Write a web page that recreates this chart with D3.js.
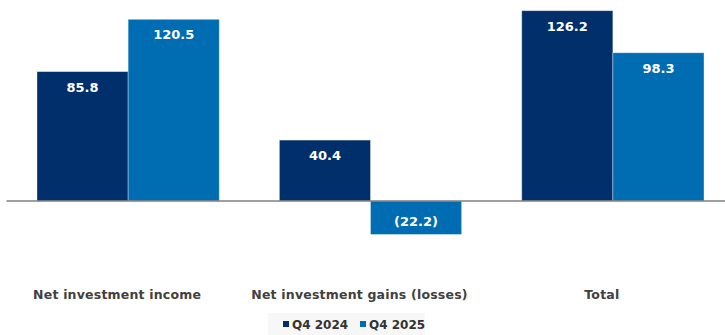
<!DOCTYPE html>
<html>
<head>
<meta charset="utf-8">
<script src="https://cdnjs.cloudflare.com/ajax/libs/d3/7.8.5/d3.min.js"></script>
<style>
  html, body { margin:0; padding:0; background:#fff; }
  .plot-wrap { width:725px; height:335px; }
  text { font-family: "DejaVu Sans", sans-serif; font-weight: bold; }
</style>
</head>
<body>
<div class="plot-wrap"></div>
<script>
var categories = ['Net investment income', 'Net investment gains (losses)', 'Total'];
var seriesNames = ['Q4 2024', 'Q4 2025'];
var q4_2024 = [85.8, 40.4, 126.2];
var q4_2025 = [120.5, -22.2, 98.3];
var seriesColors = ['#002f6b', '#006db2'];

var GroupedBars = function(opts){
    this.element = opts.elem;
    this.width = 725;
    this.height = 335;
}

GroupedBars.prototype.setData = function(newData){
  this.data = newData;
  this.draw();
}

GroupedBars.prototype.draw = function(){
    this.element.innerHTML = '';
    this.svg = d3.select(this.element).append('svg')
      .attr('width', this.width)
      .attr('height', this.height);

    this.createScales();
    this.addBars();
    this.addBaseline();
    this.addValueLabels();
    this.addCategoryLabels();
    this.addLegend();
}

GroupedBars.prototype.createScales = function(){
    this.xGroup = d3.scaleBand()
      .domain(categories)
      .range([37, 704])
      .paddingInner(0.248)
      .paddingOuter(0);
    this.xSeries = d3.scaleBand()
      .domain(seriesNames)
      .range([0, this.xGroup.bandwidth()])
      .padding(0);
    // 0 sits at y=201, ~1.508px per unit
    this.y = d3.scaleLinear()
      .domain([-30, 130])
      .range([246.24, 4.96]);
    this.color = d3.scaleOrdinal().domain(seriesNames).range(seriesColors);
}

GroupedBars.prototype.addBars = function(){
    var self = this;
    this.groups = this.svg.selectAll('.g-group')
      .data(this.data)
      .enter()
      .append('g')
      .attr('class', 'g-group')
      .attr('transform', function(d){ return 'translate(' + self.xGroup(d.category) + ',0)'; });

    this.groups.selectAll('rect.bar')
      .data(function(d){ return d.values; })
      .enter()
      .append('rect')
      .attr('class', 'bar')
      .attr('x', function(d){ return self.xSeries(d.series); })
      .attr('width', this.xSeries.bandwidth())
      .attr('y', function(d){ return self.y(Math.max(0, d.value)); })
      .attr('height', function(d){ return Math.abs(self.y(d.value) - self.y(0)); })
      .attr('fill', function(d){ return self.color(d.series); })
      .attr('stroke', 'rgba(255,255,255,0.45)')
      .attr('stroke-width', 0.8);
}

GroupedBars.prototype.addBaseline = function(){
    this.svg.append('line')
      .attr('x1', 6.5)
      .attr('x2', this.width)
      .attr('y1', this.y(0))
      .attr('y2', this.y(0))
      .attr('stroke', '#7f7f7f')
      .attr('stroke-width', 1.6);
}

GroupedBars.prototype.addValueLabels = function(){
    var self = this;
    var fmt = d3.format('.1f');
    this.groups.selectAll('text.val')
      .data(function(d){ return d.values; })
      .enter()
      .append('text')
      .attr('class', 'val')
      .attr('x', function(d){ return self.xSeries(d.series) + self.xSeries.bandwidth() / 2; })
      .attr('y', function(d){
        return d.value >= 0 ? self.y(d.value) + 20 : self.y(0) + 24.5;
      })
      .attr('text-anchor', 'middle')
      .attr('fill', '#fff')
      .attr('font-size', '13px')
      .text(function(d){ return d.value < 0 ? '(' + fmt(-d.value) + ')' : fmt(d.value); });
}

GroupedBars.prototype.addCategoryLabels = function(){
    var self = this;
    // labels sit a little left of the group centre in the original
    this.svg.selectAll('text.cat')
      .data(categories)
      .enter()
      .append('text')
      .attr('class', 'cat')
      .attr('x', function(d){ return self.xGroup(d) + self.xGroup.bandwidth() / 2; })
      .attr('dx', -11)
      .attr('y', 298.5)
      .attr('text-anchor', 'middle')
      .attr('fill', '#404040')
      .attr('font-size', '12.5px')
      .attr('letter-spacing', '0.2px')
      .text(function(d){ return d; });
}

GroupedBars.prototype.addLegend = function(){
    var self = this;
    var lg = this.svg.append('g').attr('class', 'legend');
    lg.append('rect')
      .attr('x', 268).attr('y', 313)
      .attr('width', 157).attr('height', 22)
      .attr('fill', '#f7f7f7');
    var items = lg.selectAll('.lg-item')
      .data(seriesNames)
      .enter()
      .append('g')
      .attr('class', 'lg-item')
      .attr('transform', function(d, i){ return 'translate(' + (283 + i * 77) + ',0)'; });
    items.append('rect')
      .attr('x', 0).attr('y', 321)
      .attr('width', 6).attr('height', 6)
      .attr('fill', function(d){ return self.color(d); });
    items.append('text')
      .attr('x', 9)
      .attr('y', 328.5)
      .attr('fill', '#333')
      .attr('font-size', '12px')
      .text(function(d){ return d; });
}

var rows = categories.map(function(c, i){
  return {
    category: c,
    values: [
      {series: seriesNames[0], value: q4_2024[i]},
      {series: seriesNames[1], value: q4_2025[i]}
    ]
  };
});

var chart = new GroupedBars({elem: document.querySelector('.plot-wrap')});
chart.setData(rows);
</script>
</body>
</html>
